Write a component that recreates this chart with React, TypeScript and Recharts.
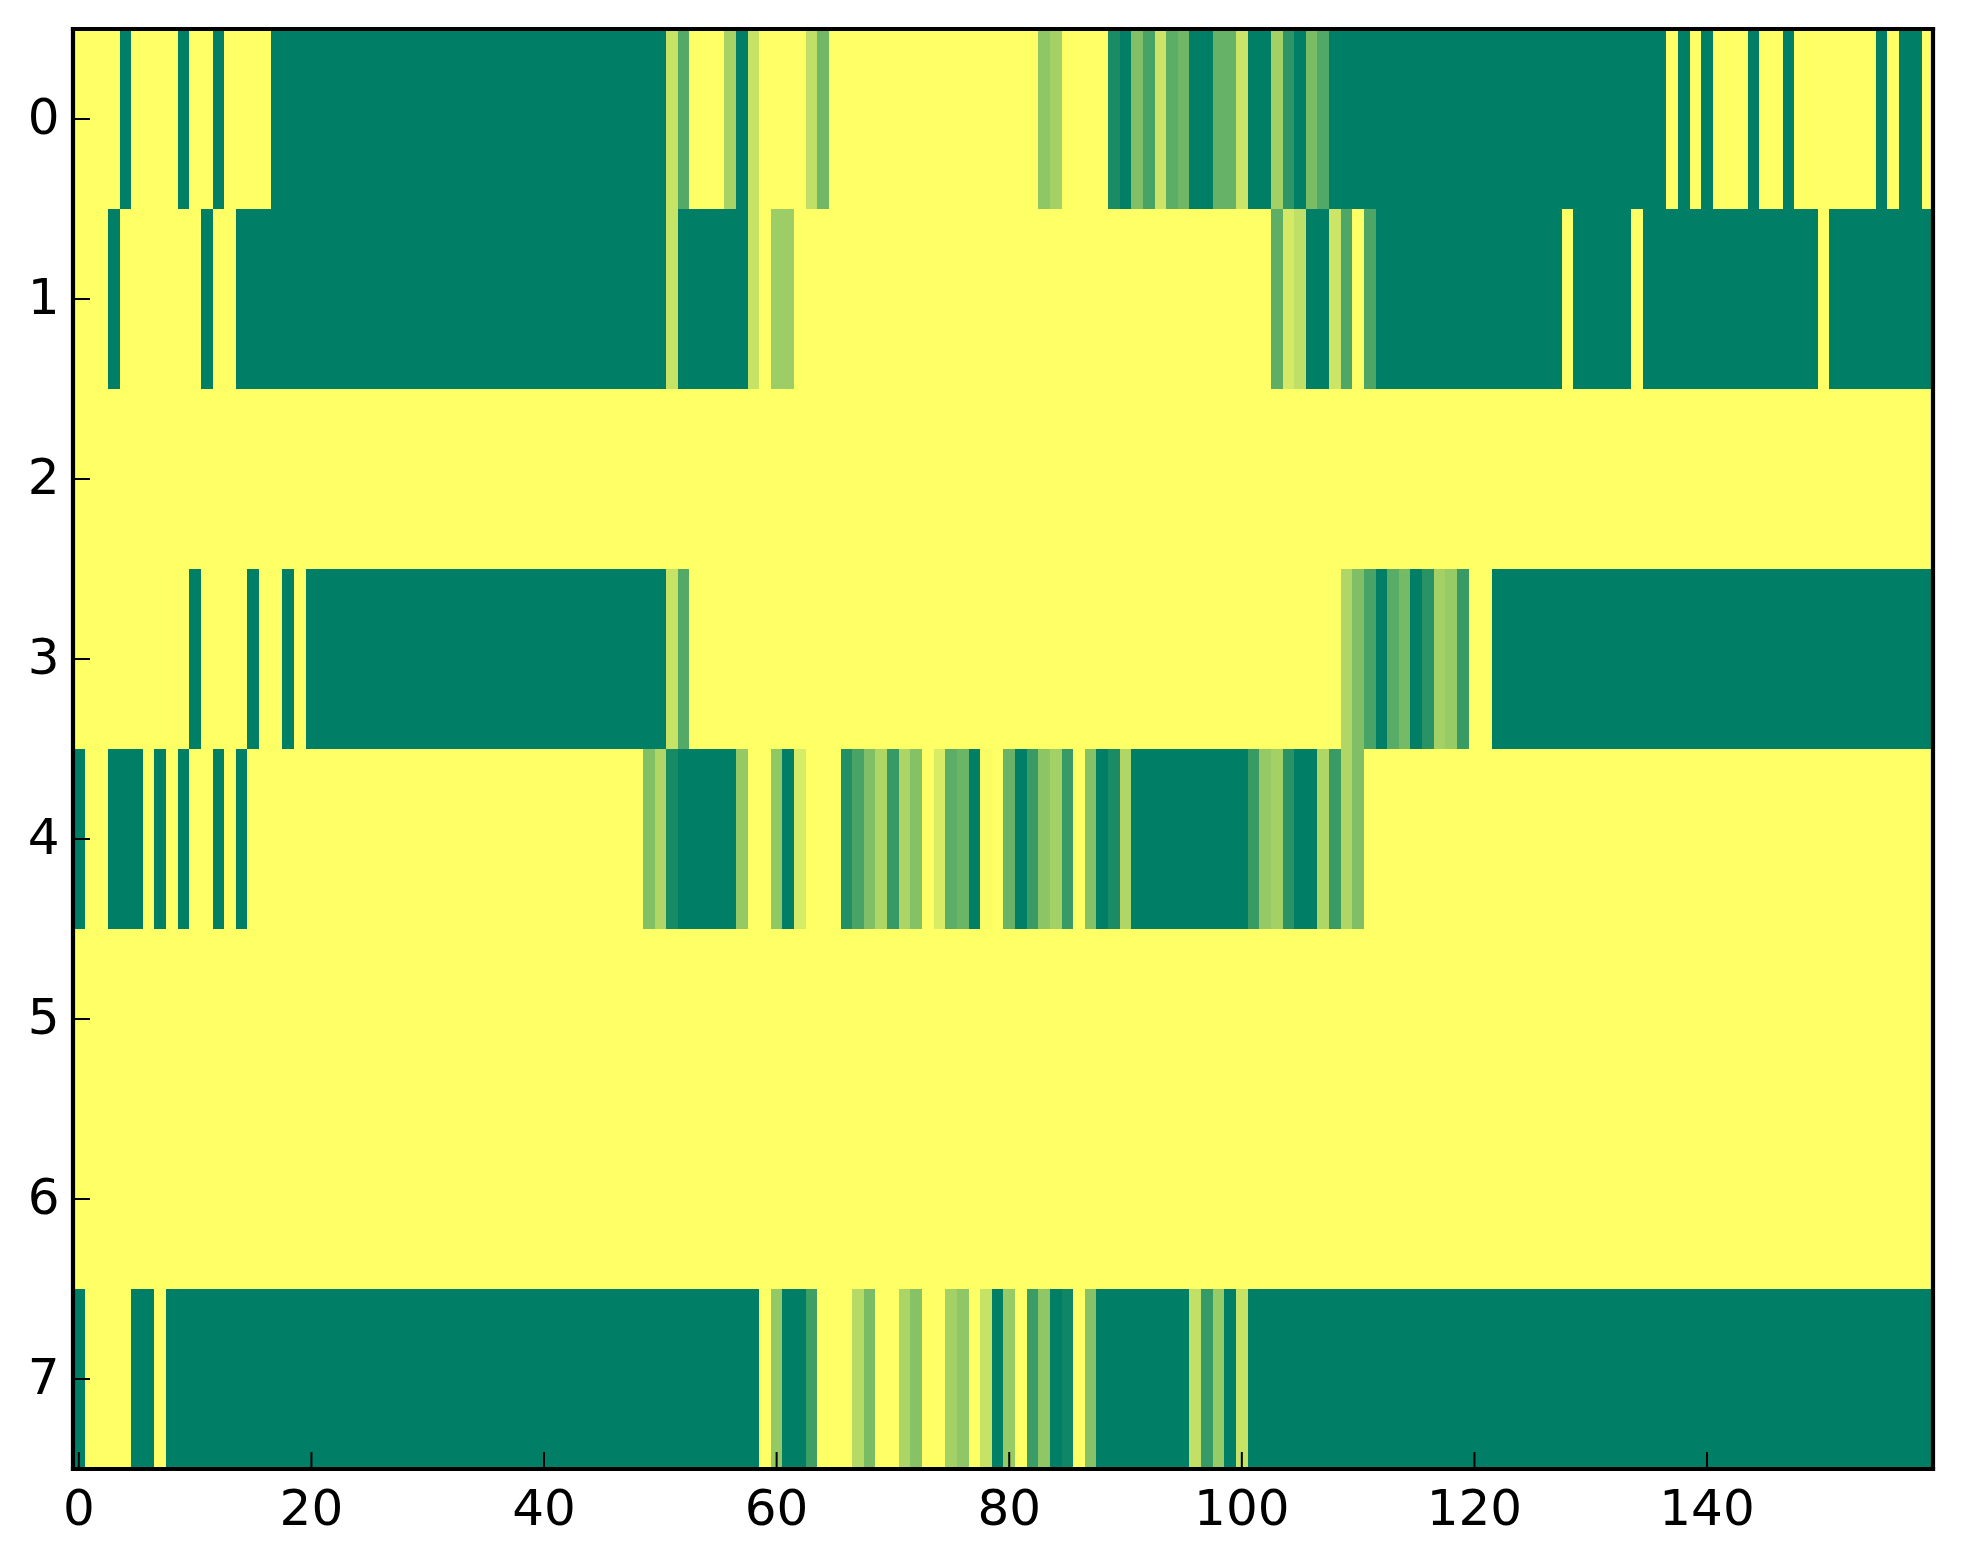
import { ScatterChart, Scatter, XAxis, YAxis } from "recharts"

const row0 = [
  0, 0, 0, 0, 1, 0, 0, 0, 0, 1, 0, 0, 1, 0, 0, 0, 0, 1, 1, 1,
  1, 1, 1, 1, 1, 1, 1, 1, 1, 1, 1, 1, 1, 1, 1, 1, 1, 1, 1, 1,
  1, 1, 1, 1, 1, 1, 1, 1, 1, 1, 1, 0.22, 0.67, 0, 0, 0, 0.35, 1, 0.22, 0,
  0, 0, 0, 0.25, 0.56, 0, 0, 0, 0, 0, 0, 0, 0, 0, 0, 0, 0, 0, 0, 0,
  0, 0, 0, 0.44, 0.36, 0, 0, 0, 0, 0.9, 1, 0.49, 0.72, 0.2, 0.64, 0.56, 1, 1, 0.6, 0.6,
  0.2, 1, 1, 0.36, 0.82, 1, 0.52, 0.68, 1, 1, 1, 1, 1, 1, 1, 1, 1, 1, 1, 1,
  1, 1, 1, 1, 1, 1, 1, 1, 1, 1, 1, 1, 1, 1, 1, 1, 1, 0, 1, 0,
  1, 0, 0, 0, 1, 0, 0, 1, 0, 0, 0, 0, 0, 0, 0, 1, 0, 1, 1, 0,
]
const row1 = [
  0, 0, 0, 1, 0, 0, 0, 0, 0, 0, 0, 1, 0, 0, 1, 1, 1, 1, 1, 1,
  1, 1, 1, 1, 1, 1, 1, 1, 1, 1, 1, 1, 1, 1, 1, 1, 1, 1, 1, 1,
  1, 1, 1, 1, 1, 1, 1, 1, 1, 1, 1, 0.22, 1, 1, 1, 1, 1, 1, 0.22, 0,
  0.39, 0.39, 0, 0, 0, 0, 0, 0, 0, 0, 0, 0, 0, 0, 0, 0, 0, 0, 0, 0,
  0, 0, 0, 0, 0, 0, 0, 0, 0, 0, 0, 0, 0, 0, 0, 0, 0, 0, 0, 0,
  0, 0, 0, 0.63, 0.17, 0.25, 1, 1, 0.2, 0.69, 0, 0.7, 1, 1, 1, 1, 1, 1, 1, 1,
  1, 1, 1, 1, 1, 1, 1, 1, 0, 1, 1, 1, 1, 1, 0, 1, 1, 1, 1, 1,
  1, 1, 1, 1, 1, 1, 1, 1, 1, 1, 0, 1, 1, 1, 1, 1, 1, 1, 1, 1,
]
const row2 = [
  0, 0, 0, 0, 0, 0, 0, 0, 0, 0, 0, 0, 0, 0, 0, 0, 0, 0, 0, 0,
  0, 0, 0, 0, 0, 0, 0, 0, 0, 0, 0, 0, 0, 0, 0, 0, 0, 0, 0, 0,
  0, 0, 0, 0, 0, 0, 0, 0, 0, 0, 0, 0, 0, 0, 0, 0, 0, 0, 0, 0,
  0, 0, 0, 0, 0, 0, 0, 0, 0, 0, 0, 0, 0, 0, 0, 0, 0, 0, 0, 0,
  0, 0, 0, 0, 0, 0, 0, 0, 0, 0, 0, 0, 0, 0, 0, 0, 0, 0, 0, 0,
  0, 0, 0, 0, 0, 0, 0, 0, 0, 0, 0, 0, 0, 0, 0, 0, 0, 0, 0, 0,
  0, 0, 0, 0, 0, 0, 0, 0, 0, 0, 0, 0, 0, 0, 0, 0, 0, 0, 0, 0,
  0, 0, 0, 0, 0, 0, 0, 0, 0, 0, 0, 0, 0, 0, 0, 0, 0, 0, 0, 0,
]
const row3 = [
  0, 0, 0, 0, 0, 0, 0, 0, 0, 0, 1, 0, 0, 0, 0, 1, 0, 0, 1, 0,
  1, 1, 1, 1, 1, 1, 1, 1, 1, 1, 1, 1, 1, 1, 1, 1, 1, 1, 1, 1,
  1, 1, 1, 1, 1, 1, 1, 1, 1, 1, 1, 0.22, 0.67, 0, 0, 0, 0, 0, 0, 0,
  0, 0, 0, 0, 0, 0, 0, 0, 0, 0, 0, 0, 0, 0, 0, 0, 0, 0, 0, 0,
  0, 0, 0, 0, 0, 0, 0, 0, 0, 0, 0, 0, 0, 0, 0, 0, 0, 0, 0, 0,
  0, 0, 0, 0, 0, 0, 0, 0, 0, 0.31, 0.5, 0.72, 1, 0.65, 0.54, 1, 0.84, 0.36, 0.41, 0.78,
  0, 0, 1, 1, 1, 1, 1, 1, 1, 1, 1, 1, 1, 1, 1, 1, 1, 1, 1, 1,
  1, 1, 1, 1, 1, 1, 1, 1, 1, 1, 1, 1, 1, 1, 1, 1, 1, 1, 1, 1,
]
const row4 = [
  1, 0, 0, 1, 1, 1, 0, 1, 0, 1, 0, 0, 1, 0, 1, 0, 0, 0, 0, 0,
  0, 0, 0, 0, 0, 0, 0, 0, 0, 0, 0, 0, 0, 0, 0, 0, 0, 0, 0, 0,
  0, 0, 0, 0, 0, 0, 0, 0, 0, 0.49, 0.31, 0.91, 1, 1, 1, 1, 1, 0.42, 0, 0,
  0.43, 1, 0.16, 0, 0, 0, 0.87, 0.72, 0.5, 0.32, 0.79, 0.33, 0.48, 0, 0.15, 0.64, 0.58, 1, 0.02, 0,
  0.59, 1, 0.78, 0.45, 0.36, 0.78, 0, 0.48, 1, 0.9, 0.31, 1, 1, 1, 1, 1, 1, 1, 1, 1,
  1, 0.78, 0.42, 0.36, 0.84, 1, 1, 0.31, 0.78, 0.31, 0.5, 0, 0, 0, 0, 0, 0, 0, 0, 0,
  0, 0, 0, 0, 0, 0, 0, 0, 0, 0, 0, 0, 0, 0, 0, 0, 0, 0, 0, 0,
  0, 0, 0, 0, 0, 0, 0, 0, 0, 0, 0, 0, 0, 0, 0, 0, 0, 0, 0, 0,
]
const row5 = [
  0, 0, 0, 0, 0, 0, 0, 0, 0, 0, 0, 0, 0, 0, 0, 0, 0, 0, 0, 0,
  0, 0, 0, 0, 0, 0, 0, 0, 0, 0, 0, 0, 0, 0, 0, 0, 0, 0, 0, 0,
  0, 0, 0, 0, 0, 0, 0, 0, 0, 0, 0, 0, 0, 0, 0, 0, 0, 0, 0, 0,
  0, 0, 0, 0, 0, 0, 0, 0, 0, 0, 0, 0, 0, 0, 0, 0, 0, 0, 0, 0,
  0, 0, 0, 0, 0, 0, 0, 0, 0, 0, 0, 0, 0, 0, 0, 0, 0, 0, 0, 0,
  0, 0, 0, 0, 0, 0, 0, 0, 0, 0, 0, 0, 0, 0, 0, 0, 0, 0, 0, 0,
  0, 0, 0, 0, 0, 0, 0, 0, 0, 0, 0, 0, 0, 0, 0, 0, 0, 0, 0, 0,
  0, 0, 0, 0, 0, 0, 0, 0, 0, 0, 0, 0, 0, 0, 0, 0, 0, 0, 0, 0,
]
const row6 = [
  0, 0, 0, 0, 0, 0, 0, 0, 0, 0, 0, 0, 0, 0, 0, 0, 0, 0, 0, 0,
  0, 0, 0, 0, 0, 0, 0, 0, 0, 0, 0, 0, 0, 0, 0, 0, 0, 0, 0, 0,
  0, 0, 0, 0, 0, 0, 0, 0, 0, 0, 0, 0, 0, 0, 0, 0, 0, 0, 0, 0,
  0, 0, 0, 0, 0, 0, 0, 0, 0, 0, 0, 0, 0, 0, 0, 0, 0, 0, 0, 0,
  0, 0, 0, 0, 0, 0, 0, 0, 0, 0, 0, 0, 0, 0, 0, 0, 0, 0, 0, 0,
  0, 0, 0, 0, 0, 0, 0, 0, 0, 0, 0, 0, 0, 0, 0, 0, 0, 0, 0, 0,
  0, 0, 0, 0, 0, 0, 0, 0, 0, 0, 0, 0, 0, 0, 0, 0, 0, 0, 0, 0,
  0, 0, 0, 0, 0, 0, 0, 0, 0, 0, 0, 0, 0, 0, 0, 0, 0, 0, 0, 0,
]
const row7 = [
  1, 0, 0, 0, 0, 1, 1, 0, 1, 1, 1, 1, 1, 1, 1, 1, 1, 1, 1, 1,
  1, 1, 1, 1, 1, 1, 1, 1, 1, 1, 1, 1, 1, 1, 1, 1, 1, 1, 1, 1,
  1, 1, 1, 1, 1, 1, 1, 1, 1, 1, 1, 1, 1, 1, 1, 1, 1, 1, 1, 0,
  0.42, 1, 1, 0.76, 0, 0, 0, 0.29, 0.52, 0, 0, 0.33, 0.47, 0, 0, 0.36, 0.44, 0, 0.22, 1,
  0.41, 0, 0.77, 0.44, 1, 0.94, 0, 0.47, 1, 1, 1, 1, 1, 1, 1, 1, 0.24, 0.79, 0.41, 1,
  0.22, 1, 1, 1, 1, 1, 1, 1, 1, 1, 1, 1, 1, 1, 1, 1, 1, 1, 1, 1,
  1, 1, 1, 1, 1, 1, 1, 1, 1, 1, 1, 1, 1, 1, 1, 1, 1, 1, 1, 1,
  1, 1, 1, 1, 1, 1, 1, 1, 1, 1, 1, 1, 1, 1, 1, 1, 1, 1, 1, 1,
]

const rows = [row0, row1, row2, row3, row4, row5, row6, row7]
const xTicks = [0, 20, 40, 60, 80, 100, 120, 140]
const yTicks = [0, 1, 2, 3, 4, 5, 6, 7]
// the right edge sits a hair short of 159.5, which gives the original's column width
const xDomain = [-0.5, 159.43]
const yDomain = [-0.5, 7.5]

const cells = rows.flatMap((row, y) => row.map((value, x) => ({ x, y, value })))

const WIDTH = 1963
const HEIGHT = 1564
const LEFT = 73
const RIGHT = 1933
const TOP = 29
const BOTTOM = 1469
const CELL_W = (RIGHT - LEFT) / (xDomain[1] - xDomain[0])
const CELL_H = (BOTTOM - TOP) / rows.length
const TICK_LEN = 17
const FONT_SIZE = 50

// summer_r: 0 is yellow, 1 is green
function cellColor(v: number) {
  const r = Math.round(255 * (1 - v))
  const g = Math.round(255 - 128 * v)
  return `rgb(${r},${g},102)`
}

function HeatCell(props: any) {
  return (
    <rect
      x={props.cx - CELL_W / 2}
      y={props.cy - CELL_H / 2}
      width={CELL_W}
      height={CELL_H}
      fill={cellColor(props.payload.value)}
      shapeRendering="crispEdges"
    />
  )
}

function BottomTick({ x, payload }: any) {
  return (
    <g>
      <line x1={x} x2={x} y1={BOTTOM} y2={BOTTOM - TICK_LEN} stroke="#000" strokeWidth={2} />
      <text x={x} y={1525} textAnchor="middle" fontSize={FONT_SIZE} fontFamily="DejaVu Sans" fill="#000">
        {payload.value}
      </text>
    </g>
  )
}

function TopTick({ x }: any) {
  return <line x1={x} x2={x} y1={TOP} y2={TOP + TICK_LEN} stroke="#000" strokeWidth={2} />
}

function LeftTick({ y, payload }: any) {
  return (
    <g>
      <line x1={LEFT} x2={LEFT + TICK_LEN} y1={y} y2={y} stroke="#000" strokeWidth={2} />
      <text x={59.5} y={y + 14.5} textAnchor="end" fontSize={FONT_SIZE} fontFamily="DejaVu Sans" fill="#000">
        {payload.value}
      </text>
    </g>
  )
}

function RightTick({ y }: any) {
  return <line x1={RIGHT} x2={RIGHT - TICK_LEN} y1={y} y2={y} stroke="#000" strokeWidth={2} />
}

const spine = { stroke: "#000", strokeWidth: 4.2, strokeLinecap: "square" as const }
// axis lines sit above the cells, as the frame does in the original
const axisZ: any = { zIndex: 1500 }

export default function App() {
  return (
    <div style={{ position: "absolute", left: 0, top: 0, width: WIDTH, height: HEIGHT, background: "#fff" }}>
      <ScatterChart width={WIDTH} height={HEIGHT} margin={{ top: 0, right: 0, bottom: 0, left: 0 }}>
        <Scatter data={cells} shape={HeatCell} isAnimationActive={false} />
        <XAxis
          {...axisZ}
          dataKey="x"
          type="number"
          domain={xDomain}
          ticks={xTicks}
          interval={0}
          height={HEIGHT - BOTTOM}
          axisLine={spine}
          tickLine={false}
          tick={BottomTick}
        />
        <XAxis
          {...axisZ}
          xAxisId="top"
          orientation="top"
          type="number"
          domain={xDomain}
          ticks={xTicks}
          interval={0}
          height={TOP}
          axisLine={spine}
          tickLine={false}
          tick={TopTick}
        />
        <YAxis
          {...axisZ}
          dataKey="y"
          type="number"
          reversed
          domain={yDomain}
          ticks={yTicks}
          interval={0}
          width={LEFT}
          axisLine={spine}
          tickLine={false}
          tick={LeftTick}
        />
        <YAxis
          {...axisZ}
          yAxisId="right"
          orientation="right"
          type="number"
          reversed
          domain={yDomain}
          ticks={yTicks}
          interval={0}
          width={WIDTH - RIGHT}
          axisLine={spine}
          tickLine={false}
          tick={RightTick}
        />
      </ScatterChart>
    </div>
  )
}
